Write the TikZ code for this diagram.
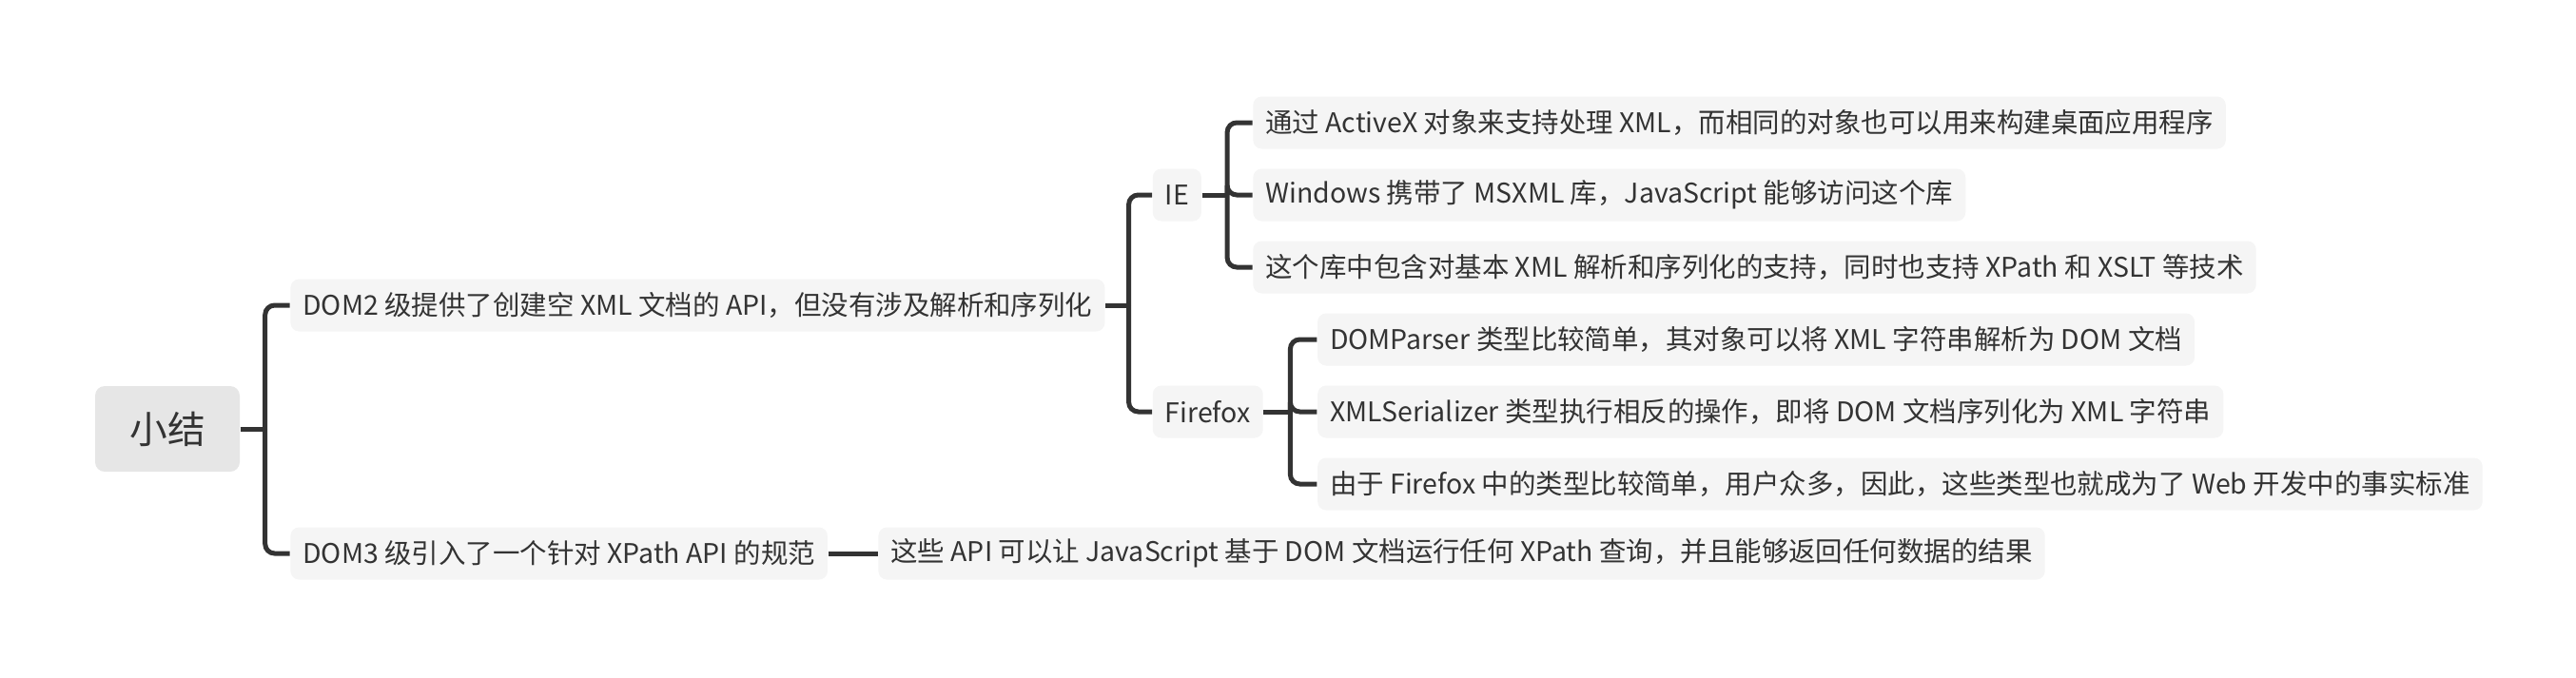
\documentclass[tikz,border=0pt]{standalone}
\usepackage{fontspec}
\setmainfont{Noto Sans CJK SC}
\usetikzlibrary{positioning}
\definecolor{linegray}{HTML}{333333}
\definecolor{textgray}{HTML}{333333}
\definecolor{boxgray}{HTML}{F5F5F5}
\definecolor{rootgray}{HTML}{E6E6E6}
\tikzstyle{rootbox} = [rectangle, rounded corners=0.1cm, minimum width=1.52cm, minimum height=0.9cm, fill=rootgray, text=textgray, font=\fontsize{11.3}{13}\selectfont]
\tikzstyle{topicbox} = [rectangle, rounded corners=0.09cm, minimum height=0.55cm, inner xsep=0.13cm, inner ysep=0pt, fill=boxgray, text=textgray, font=\fontsize{8.1}{9.7}\selectfont]
\tikzstyle{link} = [draw=linegray, line width=0.05cm, rounded corners=0.1cm]

\begin{document}
\begin{tikzpicture}[node distance=0.5cm]
\useasboundingbox (0,0) rectangle (27.08,-7.12);

\node (root) [rootbox] at (1.76,-4.51) {小结};
\node (dom2) [topicbox, right=0.52cm of root, yshift=1.30cm] {DOM2 级提供了创建空 XML 文档的 API，但没有涉及解析和序列化};
\node (dom3) [topicbox, right=0.52cm of root, yshift=-1.31cm] {DOM3 级引入了一个针对 XPath API 的规范};
\node (xpath) [topicbox, right=0.52cm of dom3] {这些 API 可以让 JavaScript 基于 DOM 文档运行任何 XPath 查询，并且能够返回任何数据的结果};

\node (ie) [topicbox, right=0.49cm of dom2, yshift=1.16cm] {IE};
\node (ff) [topicbox, right=0.49cm of dom2, yshift=-1.12cm] {Firefox};

\node (ieA) [topicbox, right=0.53cm of ie, yshift=0.76cm] {通过 ActiveX 对象来支持处理 XML，而相同的对象也可以用来构建桌面应用程序};
\node (ieB) [topicbox, right=0.53cm of ie] {Windows 携带了 MSXML 库，JavaScript 能够访问这个库};
\node (ieC) [topicbox, right=0.53cm of ie, yshift=-0.76cm] {这个库中包含对基本 XML 解析和序列化的支持，同时也支持 XPath 和 XSLT 等技术};

\node (ffA) [topicbox, right=0.56cm of ff, yshift=0.76cm] {DOMParser 类型比较简单，其对象可以将 XML 字符串解析为 DOM 文档};
\node (ffB) [topicbox, right=0.56cm of ff] {XMLSerializer 类型执行相反的操作，即将 DOM 文档序列化为 XML 字符串};
\node (ffC) [topicbox, right=0.56cm of ff, yshift=-0.76cm] {由于 Firefox 中的类型比较简单，用户众多，因此，这些类型也就成为了 Web 开发中的事实标准};

\draw [link] (root.east) -- ++(0.26,0) coordinate (rootJ);
\draw [link] (rootJ) |- (dom2.west);
\draw [link] (rootJ) |- (dom3.west);
\draw [link] (dom3) -- (xpath);

\draw [link] (dom2.east) -- ++(0.245,0) coordinate (dom2J);
\draw [link] (dom2J) |- (ie.west);
\draw [link] (dom2J) |- (ff.west);

\draw [link] (ie.east) -- ++(0.265,0) coordinate (ieJ);
\draw [link] (ieJ) |- (ieA.west);
\draw [link] (ieJ) |- (ieB.west);
\draw [link] (ieJ) |- (ieC.west);

\draw [link] (ff.east) -- ++(0.28,0) coordinate (ffJ);
\draw [link] (ffJ) |- (ffA.west);
\draw [link] (ffJ) |- (ffB.west);
\draw [link] (ffJ) |- (ffC.west);
\end{tikzpicture}
\end{document}
